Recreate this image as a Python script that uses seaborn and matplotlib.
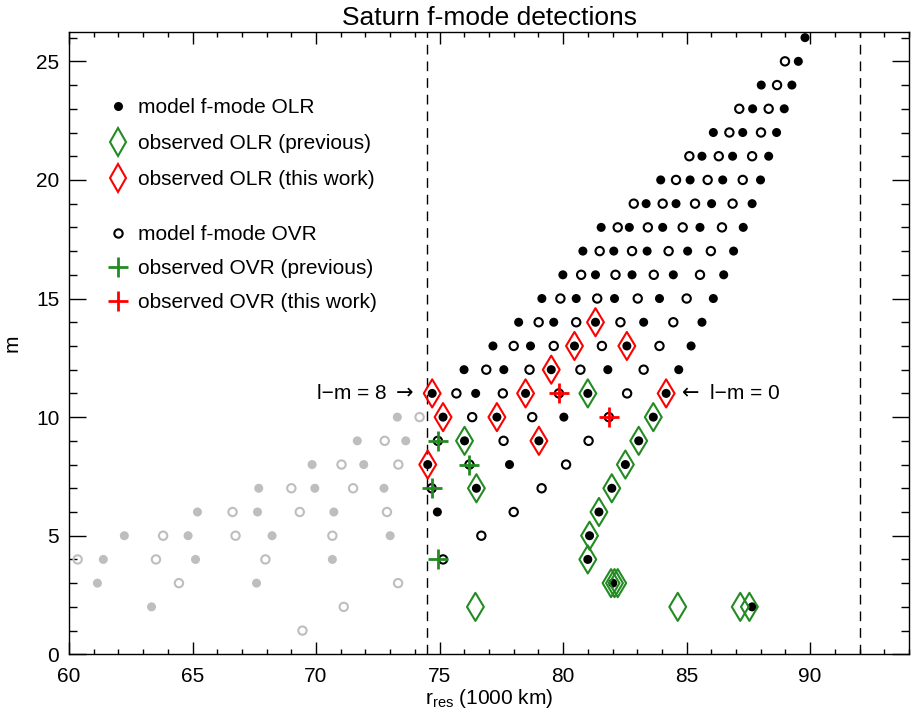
import matplotlib
matplotlib.use("Agg")
import matplotlib.pyplot as plt
from matplotlib.lines import Line2D
from matplotlib.ticker import MultipleLocator
import seaborn as sns
import pandas as pd

# ---------------- data ----------------
title = "Saturn f-mode detections"
ring_edges = [74.49, 92.0]          # dashed vertical lines (1000 km)

# model f-mode OLR (filled circles)
olr_m = ([26, 25, 24, 24, 23, 23, 22, 22, 22, 21, 21, 21, 20, 20, 20, 20, 19, 19, 19, 19]
         + [18] * 5 + [17] * 5 + [16] * 5 + [15] * 5 + [14] * 5 + [13] * 5 + [12] * 5
         + [11] * 5 + [10] * 5 + [9] * 5 + [8] * 5 + [7] * 5 + [6] * 5 + [5] * 5
         + [4] * 4 + [3] * 3 + [2] * 2)
olr_r = [89.79,
         89.52,
         88.02, 89.26,
         87.67, 88.95,
         86.08, 87.27, 88.64,
         85.62, 86.86, 88.32,
         83.95, 85.14, 86.46, 87.99,
         83.36, 84.57, 86.01, 87.65,
         81.54, 82.68, 84.03, 85.54, 87.29,
         80.80, 82.05, 83.40, 85.04, 86.90,
         79.99, 81.31, 82.79, 84.46, 86.50,
         79.14, 80.53, 82.08, 83.90, 86.08,
         78.20, 79.62, 81.31, 83.26, 85.62,
         77.16, 78.68, 80.46, 82.58, 85.18,
         75.99, 77.60, 79.52, 81.81, 84.68,
         74.70, 76.46, 78.48, 81.00, 84.17,
         73.29, 75.14, 77.32, 80.03, 83.65,
         71.67, 73.63, 76.01, 79.02, 83.06,
         69.84, 71.93, 74.52, 77.83, 82.52,
         67.68, 69.95, 72.75, 76.49, 81.97,
         65.20, 67.63, 70.72, 74.91, 81.45,
         62.24, 64.82, 68.22, 73.00, 81.07,
         61.39, 65.12, 70.66, 81.00,
         61.15, 67.59, 82.01,
         63.34, 87.65]

# model f-mode OVR (open circles)
ovr_m = ([25, 24, 23, 23, 22, 22, 21, 21, 21, 20, 20, 20]
         + [19] * 4 + [18] * 4 + [17] * 4 + [16] * 4 + [15] * 4 + [14] * 4 + [13] * 4
         + [12] * 4 + [11] * 4 + [10] * 4 + [9] * 4 + [8] * 4 + [7] * 4 + [6] * 4
         + [5] * 4 + [4] * 4 + [3] * 2 + [2, 1])
ovr_r = [88.98,
         88.66,
         87.13, 88.32,
         86.73, 88.01,
         85.11, 86.30, 87.65,
         84.57, 85.85, 87.27,
         82.86, 84.03, 85.34, 86.86,
         82.21, 83.43, 84.84, 86.43,
         81.48, 82.79, 84.27, 85.98,
         80.73, 82.12, 83.67, 85.54,
         79.89, 81.38, 83.02, 85.00,
         79.01, 80.53, 82.32, 84.46,
         78.00, 79.62, 81.57, 83.90,
         76.89, 78.64, 80.70, 83.26,
         75.68, 77.56, 79.83, 82.59,
         74.19, 76.32, 78.75, 81.85,
         72.78, 74.93, 77.59, 81.03,
         71.03, 73.33, 76.21, 80.12,
         69.00, 71.50, 74.68, 79.13,
         66.62, 69.34, 72.87, 78.00,
         63.81, 66.74, 70.66, 76.69,
         60.35, 63.52, 67.95, 75.14,
         64.45, 73.32,
         71.12,
         69.45]

# observed OLR (previous) - green diamonds
olr_prev_m = [11, 10, 9, 9, 8, 7, 7, 6, 5, 4, 3, 3, 3, 2, 2, 2, 2]
olr_prev_r = [81.00, 83.65, 76.01, 83.06, 82.52, 76.49, 81.97, 81.45, 81.07, 81.00,
              81.94, 82.08, 82.21, 76.45, 84.64, 87.17, 87.54]

# observed OLR (this work) - red diamonds
olr_new_m = [14, 13, 13, 12, 11, 11, 11, 10, 10, 9, 8]
olr_new_r = [81.31, 80.46, 82.58, 79.52, 74.70, 78.48, 84.17, 75.14, 77.32, 79.02, 74.52]

# observed OVR (previous) - green plus
ovr_prev_m = [9, 8, 7, 4]
ovr_prev_r = [74.93, 76.21, 74.68, 74.93]

# observed OVR (this work) - red plus
ovr_new_m = [11, 10]
ovr_new_r = [79.83, 81.85]

legend_labels = ["model f-mode OLR", "observed OLR (previous)", "observed OLR (this work)",
                 "model f-mode OVR", "observed OVR (previous)", "observed OVR (this work)"]

# ---------------- style ----------------
sns.set_style("white")
plt.rcParams["font.family"] = ["Liberation Sans", "DejaVu Sans"]
plt.rcParams["mathtext.fontset"] = "custom"
plt.rcParams["mathtext.rm"] = "Liberation Sans"
plt.rcParams["mathtext.it"] = "Liberation Sans"
for key in ("text.color", "axes.labelcolor", "xtick.color", "ytick.color",
            "xtick.labelcolor", "ytick.labelcolor", "axes.edgecolor"):
    plt.rcParams[key] = "black"

GREEN = "#228B22"
RED = "#FF0000"
GRAY = "#BEBEBE"
FS = 15

fig = plt.figure(figsize=(9.11, 7.23), dpi=100)
ax = fig.add_axes([69 / 911, 1 - 654.3 / 723, 840 / 911, 622.6 / 723])

olr = pd.DataFrame({"r": olr_r, "m": olr_m})
ovr = pd.DataFrame({"r": ovr_r, "m": ovr_m})
inner = ring_edges[0]

DOT_MS, CIRC_MS, DIA_MS, PLUS_MS = 6.5, 6.0, 14.3, 15

for df, filled in ((olr, True), (ovr, False)):
    for sub, col in ((df[df.r < inner], GRAY), (df[df.r >= inner], "black")):
        if filled:
            sns.scatterplot(data=sub, x="r", y="m", ax=ax, marker="o", s=DOT_MS ** 2,
                            color=col, edgecolor="none", linewidth=0, zorder=3)
        else:
            sns.scatterplot(data=sub, x="r", y="m", ax=ax, marker="o", s=CIRC_MS ** 2,
                            facecolor="none", edgecolor=col, linewidth=1.5, zorder=3)

for rr, mm, col in ((olr_prev_r, olr_prev_m, GREEN), (olr_new_r, olr_new_m, RED)):
    sns.scatterplot(x=rr, y=mm, ax=ax, marker="d", s=DIA_MS ** 2, facecolor="none",
                    edgecolor=col, linewidth=1.5, zorder=4)

for rr, mm, col in ((ovr_prev_r, ovr_prev_m, GREEN), (ovr_new_r, ovr_new_m, RED)):
    sns.scatterplot(x=rr, y=mm, ax=ax, marker="+", s=PLUS_MS ** 2, color=col,
                    linewidth=2.0, zorder=5)

for xe in ring_edges:
    ax.axvline(xe, color="black", lw=1.0, ls=(0, (7, 5)), zorder=2)

ax.text(72.87, 11, "l\u2212m = 8", ha="right", va="center", fontsize=FS)
ax.text(73.95, 11, "\u2192", ha="right", va="center", fontsize=FS, family="DejaVu Sans")
ax.text(84.83, 11, "\u2190", ha="left", va="center", fontsize=FS, family="DejaVu Sans")
ax.text(85.94, 11, "l\u2212m = 0", ha="left", va="center", fontsize=FS)

ax.set_xlim(60, 94)
ax.set_ylim(0, 26.25)
ax.xaxis.set_major_locator(MultipleLocator(5))
ax.xaxis.set_minor_locator(MultipleLocator(1))
ax.yaxis.set_major_locator(MultipleLocator(5))
ax.yaxis.set_minor_locator(MultipleLocator(1))
ax.tick_params(axis="x", which="both", direction="in", top=True, bottom=True,
               labelsize=FS, pad=9, color="black", labelcolor="black", width=1)
ax.tick_params(axis="x", which="major", length=8.4)
ax.tick_params(axis="x", which="minor", length=3.8)
ax.tick_params(axis="y", which="both", direction="in", left=True, right=True,
               labelsize=FS, pad=7, color="black", labelcolor="black", width=1)
ax.tick_params(axis="y", which="major", length=12.2)
ax.tick_params(axis="y", which="minor", length=6.0)
for sp in ax.spines.values():
    sp.set_color("black")
    sp.set_linewidth(1.0)
    sp.set_visible(True)

ax.set_title(title, fontsize=19, pad=5, color="black")
ax.set_xlabel(r"r$_{\rm res}$ (1000 km)", fontsize=FS, labelpad=1, color="black")
ax.set_ylabel("m", fontsize=FS, labelpad=10, color="black")

h1 = [Line2D([], [], ls="none", marker="o", ms=DOT_MS, color="black", mec="none"),
      Line2D([], [], ls="none", marker="d", ms=DIA_MS, mfc="none", mec=GREEN, mew=1.5),
      Line2D([], [], ls="none", marker="d", ms=DIA_MS, mfc="none", mec=RED, mew=1.5)]
h2 = [Line2D([], [], ls="none", marker="o", ms=CIRC_MS, mfc="none", mec="black", mew=1.5),
      Line2D([], [], ls="none", marker="+", ms=PLUS_MS, color=GREEN, mew=2.0),
      Line2D([], [], ls="none", marker="+", ms=PLUS_MS, color=RED, mew=2.0)]
common = dict(loc="upper left", frameon=False, fontsize=FS, handlelength=1.0,
              handletextpad=0.46, borderpad=0, borderaxespad=0, labelcolor="black")
leg1 = ax.legend(h1, legend_labels[:3], bbox_to_anchor=(0.046, 0.893),
                 labelspacing=0.82, **common)
ax.add_artist(leg1)
ax.legend(h2, legend_labels[3:], bbox_to_anchor=(0.046, 0.6895),
          labelspacing=0.72, **common)

fig.savefig("out.png", dpi=100)
